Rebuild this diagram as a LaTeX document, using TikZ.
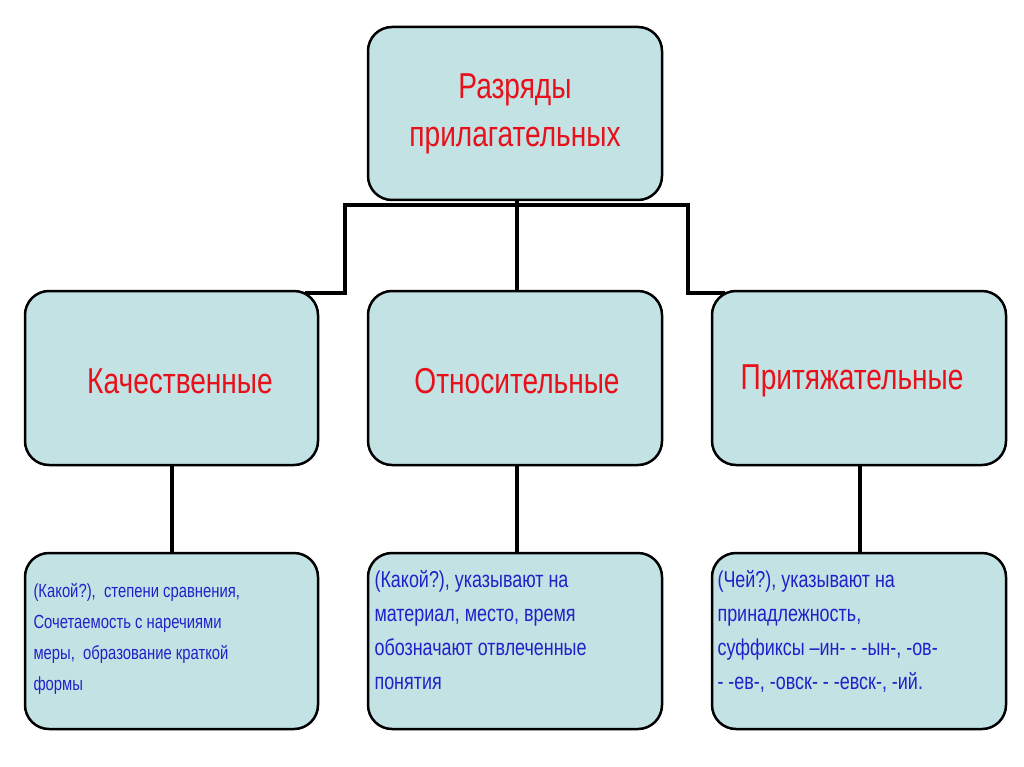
\documentclass[tikz,border=0pt]{standalone}
\usepackage{fontspec}
\setmainfont{Liberation Sans}[FakeStretch=0.78]
\begin{document}
\begin{tikzpicture}[x=1pt,y=-1pt,
 box/.style={draw=black,line width=2.5pt,rounded corners=24pt,fill=boxc},
 ln/.style={line width=4.5pt}]
\definecolor{boxc}{HTML}{C3E2E4}
\definecolor{tred}{HTML}{E8101A}
\definecolor{tblue}{HTML}{1E22C8}
\useasboundingbox[fill=white] (0,0) rectangle (1024,767);
\draw[box] (368,27) rectangle (662,200);
\node[text=tred,font=\fontsize{36}{48}\selectfont,align=center] (top) at (515,114) {Разряды\\прилагательных};
\draw[box] (25,291) rectangle (318,465);
\draw[box] (368,291) rectangle (662,465);
\draw[box] (712,291) rectangle (1006,465);
\node[text=tred,font=\fontsize{36}{44}\selectfont] (a) at (180,381) {Качественные};
\node[text=tred,font=\fontsize{36}{44}\selectfont] (b) at (517,381) {Относительные};
\node[text=tred,font=\fontsize{36}{44}\selectfont] (c) at (852,381) {Притяжательные};
\draw[box] (25,553) rectangle (318,729);
\draw[box] (368,553) rectangle (662,729);
\draw[box] (712,553) rectangle (1006,729);
\node[text=tblue,font=\fontsize{19}{31}\selectfont,align=left,anchor=north west] (d) at (30,580) {(Какой?),\ \ степени сравнения,\\Сочетаемость с наречиями\\меры,\ \ образование краткой\\формы};
\node[text=tblue,font=\fontsize{23}{34}\selectfont,align=left,anchor=north west] (e) at (371,567) {(Какой?), указывают на\\материал, место, время\\обозначают отвлеченные\\понятия};
\node[text=tblue,font=\fontsize{23}{34}\selectfont,align=left,anchor=north west] (f) at (714,567) {(Чей?), указывают на\\принадлежность,\\суффиксы –ин- - -ын-, -ов-\\- -ев-, -овск- - -евск-, -ий.};
\coordinate (j) at (517,205);
\draw[ln] (517,200) -- (j);
\draw[ln] (345,205) -- (688,205);
\draw[ln] (345,203) -- (345,293) -- (305,293);
\draw[ln] (688,203) -- (688,293) -- (725,293);
\draw[ln] (j) -- (517,291);
\draw[ln] (172,465) -- (172,553);
\draw[ln] (517,465) -- (517,553);
\draw[ln] (860,465) -- (860,553);
\end{tikzpicture}
\end{document}
